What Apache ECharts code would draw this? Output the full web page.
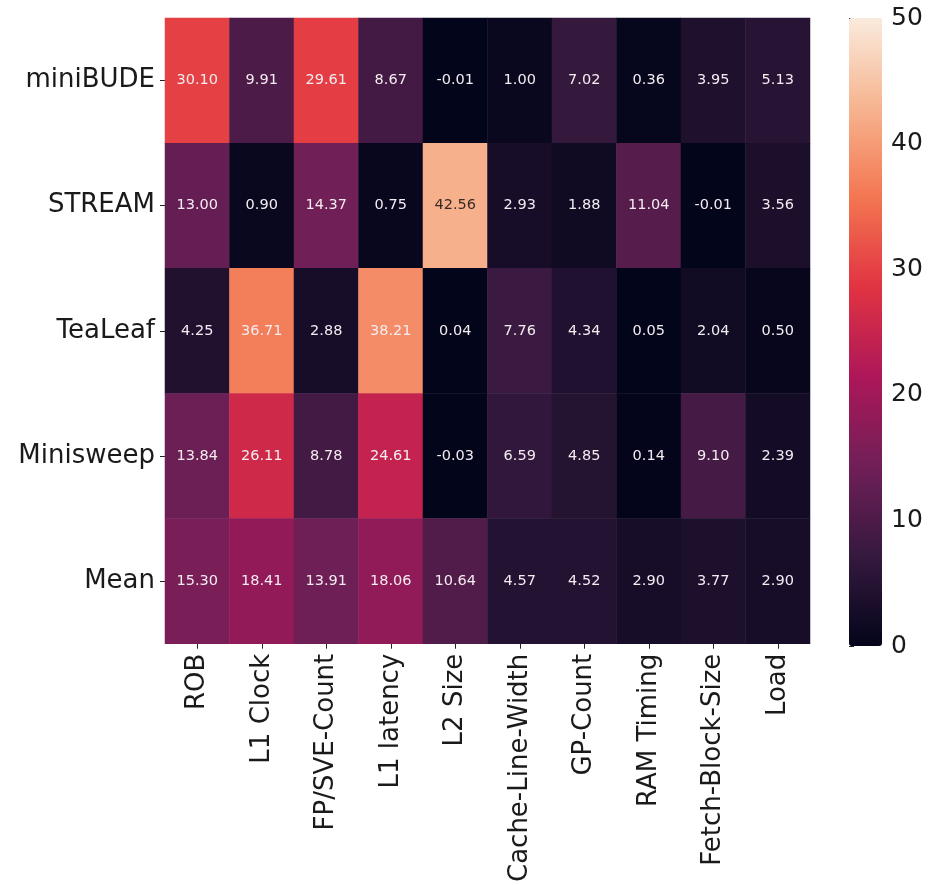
<!DOCTYPE html>
<html>
<head>
<meta charset="utf-8">
<script src="https://cdn.jsdelivr.net/npm/echarts@6/dist/echarts.min.js"></script>
<style>
  html, body { margin: 0; padding: 0; background: #ffffff; }
  #chart { width: 931px; height: 885px; }
</style>
</head>
<body>
<div id="chart"></div>
<script>
// Parameters (columns) and benchmarks (rows)
const parameters = ['ROB', 'L1 Clock', 'FP/SVE-Count', 'L1 latency', 'L2 Size',
  'Cache-Line-Width', 'GP-Count', 'RAM Timing', 'Fetch-Block-Size', 'Load'];
const benchmarks = ['miniBUDE', 'STREAM', 'TeaLeaf', 'Minisweep', 'Mean'];

// Values per benchmark, one per parameter
const miniBUDE  = [30.10, 9.91, 29.61, 8.67, -0.01, 1.00, 7.02, 0.36, 3.95, 5.13];
const STREAM    = [13.00, 0.90, 14.37, 0.75, 42.56, 2.93, 1.88, 11.04, -0.01, 3.56];
const TeaLeaf   = [4.25, 36.71, 2.88, 38.21, 0.04, 7.76, 4.34, 0.05, 2.04, 0.50];
const Minisweep = [13.84, 26.11, 8.78, 24.61, -0.03, 6.59, 4.85, 0.14, 9.10, 2.39];
const Mean      = [15.30, 18.41, 13.91, 18.06, 10.64, 4.57, 4.52, 2.90, 3.77, 2.90];

// Colour scale range and colorbar ticks
const scaleMin = 0;
const scaleMax = 50;
const colorbarTicks = [0, 10, 20, 30, 40, 50];

// "rocket" colormap, evenly spaced stops
const rocket = ['#03051a', '#35193e', '#701f57', '#ad1759', '#e13342', '#f37651', '#f6b48f', '#faebdd'];

const rows = [miniBUDE, STREAM, TeaLeaf, Minisweep, Mean];
const FONT = 'DejaVu Sans';

const cells = [];
rows.forEach((vals, r) => {
  vals.forEach((v, c) => {
    const light = (v - scaleMin) / (scaleMax - scaleMin) > 0.8;
    cells.push({
      value: [c, r, v],
      label: { color: light ? '#3a2a24' : '#f4ecf0' }
    });
  });
});

const chart = echarts.init(document.getElementById('chart'), null, { renderer: 'canvas' });
chart.setOption({
  backgroundColor: '#ffffff',
  animation: false,
  textStyle: { fontFamily: FONT },
  grid: [
    { left: 165, top: 18, width: 645, height: 627 },
    { left: 849, top: 18, width: 33, height: 628 }
  ],
  xAxis: [
    {
      gridIndex: 0,
      type: 'category',
      data: parameters,
      position: 'bottom',
      axisLine: { show: false },
      axisTick: { show: true, alignWithLabel: true, length: 5, lineStyle: { color: '#222', width: 1 } },
      axisLabel: { rotate: 90, fontSize: 26, color: '#1a1a1a', margin: 10, fontFamily: FONT, interval: 0 },
      splitLine: { show: false }
    },
    { gridIndex: 1, type: 'value', min: 0, max: 1, show: false }
  ],
  yAxis: [
    {
      gridIndex: 0,
      type: 'category',
      data: benchmarks,
      inverse: true,
      axisLine: { show: false },
      axisTick: { show: true, alignWithLabel: true, length: 5, lineStyle: { color: '#222', width: 1 } },
      axisLabel: { fontSize: 26, color: '#1a1a1a', margin: 10, fontFamily: FONT, interval: 0 },
      splitLine: { show: false }
    },
    {
      gridIndex: 1,
      type: 'value',
      min: scaleMin,
      max: scaleMax,
      interval: colorbarTicks[1] - colorbarTicks[0],
      position: 'right',
      axisLine: { show: false },
      axisTick: { show: true, length: 5, lineStyle: { color: '#222', width: 1 } },
      axisLabel: { fontSize: 25, color: '#1a1a1a', margin: 9, fontFamily: FONT },
      splitLine: { show: false }
    }
  ],
  visualMap: {
    type: 'continuous',
    seriesIndex: 0,
    dimension: 2,
    min: scaleMin,
    max: scaleMax,
    calculable: false,
    orient: 'vertical',
    left: 849,
    top: 18,
    itemWidth: 33,
    itemHeight: 628,
    padding: 0,
    hoverLink: false,
    inRange: { color: rocket }
  },
  series: [
    {
      type: 'heatmap',
      xAxisIndex: 0,
      yAxisIndex: 0,
      data: cells,
      itemStyle: { borderWidth: 0 },
      label: {
        show: true,
        fontSize: 14.5,
        fontFamily: FONT,
        formatter: p => p.value[2].toFixed(2)
      },
      emphasis: { disabled: true }
    }
  ]
});
</script>
</body>
</html>
